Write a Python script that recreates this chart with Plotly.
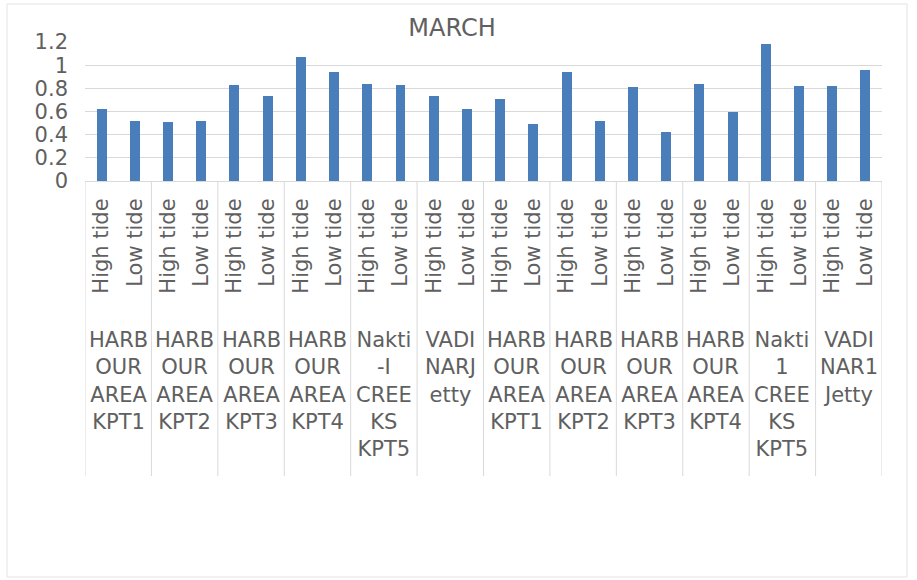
import plotly.graph_objects as go

# Sampling stations (wrapped the way they appear under the axis)
stations = [
    "HARB<br>OUR<br>AREA<br>KPT1",
    "HARB<br>OUR<br>AREA<br>KPT2",
    "HARB<br>OUR<br>AREA<br>KPT3",
    "HARB<br>OUR<br>AREA<br>KPT4",
    "Nakti<br>-I<br>CREE<br>KS<br>KPT5",
    "VADI<br>NARJ<br>etty",
    "HARB<br>OUR<br>AREA<br>KPT1",
    "HARB<br>OUR<br>AREA<br>KPT2",
    "HARB<br>OUR<br>AREA<br>KPT3",
    "HARB<br>OUR<br>AREA<br>KPT4",
    "Nakti<br>1<br>CREE<br>KS<br>KPT5",
    "VADI<br>NAR1<br>Jetty",
]
tides = ["High tide", "Low tide"]

# One value per station and tide, in station order (high, low)
values = [
    0.62, 0.52,
    0.51, 0.52,
    0.83, 0.73,
    1.07, 0.94,
    0.84, 0.83,
    0.73, 0.62,
    0.71, 0.49,
    0.94, 0.52,
    0.81, 0.42,
    0.84, 0.60,
    1.18, 0.82,
    0.82, 0.96,
]

tide_labels = [t for _ in stations for t in tides]
xpos = list(range(len(values)))

TEXT = "#606060"
GRID = "#d9d9d9"
FONT = "DejaVu Sans"

W, H = 917, 580
L, R, T, B = 85, 35, 42, 399
plot_w = W - L - R
plot_h = H - T - B


def px_to_paper_y(py):
    return (H - B - py) / plot_h


def px_to_paper_x(px):
    return (px - L) / plot_w


fig = go.Figure(
    go.Bar(
        x=xpos,
        y=values,
        width=0.3,
        marker=dict(color="#4a7ebb", line=dict(width=0)),
    )
)

shapes = []
n_groups = len(stations)
for g in range(n_groups + 1):
    shapes.append(dict(
        type="line", xref="x", yref="paper",
        x0=g * 2 - 0.5, x1=g * 2 - 0.5,
        y0=0, y1=px_to_paper_y(476),
        line=dict(color=GRID, width=1),
    ))

# chart-area border
shapes.append(dict(
    type="rect", xref="paper", yref="paper",
    x0=px_to_paper_x(7), x1=px_to_paper_x(907),
    y0=px_to_paper_y(577), y1=px_to_paper_y(4),
    line=dict(color="#e3e3e3", width=1), layer="below",
))

annotations = []
for g, name in enumerate(stations):
    annotations.append(dict(
        x=g * 2 + 0.5, xref="x",
        y=px_to_paper_y(326), yref="paper",
        yanchor="top", xanchor="center",
        text=name, showarrow=False, align="center",
        font=dict(family=FONT, size=21, color=TEXT),
    ))

fig.update_layout(
    width=W, height=H,
    margin=dict(l=L, r=R, t=T, b=B),
    paper_bgcolor="white",
    plot_bgcolor="white",
    showlegend=False,
    bargap=0,
    title=dict(
        text="MARCH", x=452 / W, xref="container", xanchor="center",
        y=1 - 28 / H, yref="container", yanchor="middle",
        font=dict(family=FONT, size=24, color=TEXT),
    ),
    xaxis=dict(
        range=[-0.5, len(values) - 0.5],
        tickmode="array", tickvals=xpos, ticktext=tide_labels,
        tickangle=-90,
        tickfont=dict(family=FONT, size=21, color=TEXT),
        showgrid=False, zeroline=False,
        showline=True, linecolor=GRID, linewidth=1,
        ticks="", ticklabelstandoff=8,
    ),
    yaxis=dict(
        range=[0, 1.2], dtick=0.2, tick0=0,
        tickfont=dict(family=FONT, size=21, color=TEXT),
        showgrid=True, gridcolor=GRID, gridwidth=1,
        zeroline=False, showline=False, ticks="",
        ticklabelstandoff=16,
    ),
    shapes=shapes,
    annotations=annotations,
)

fig.write_html("out.html")
